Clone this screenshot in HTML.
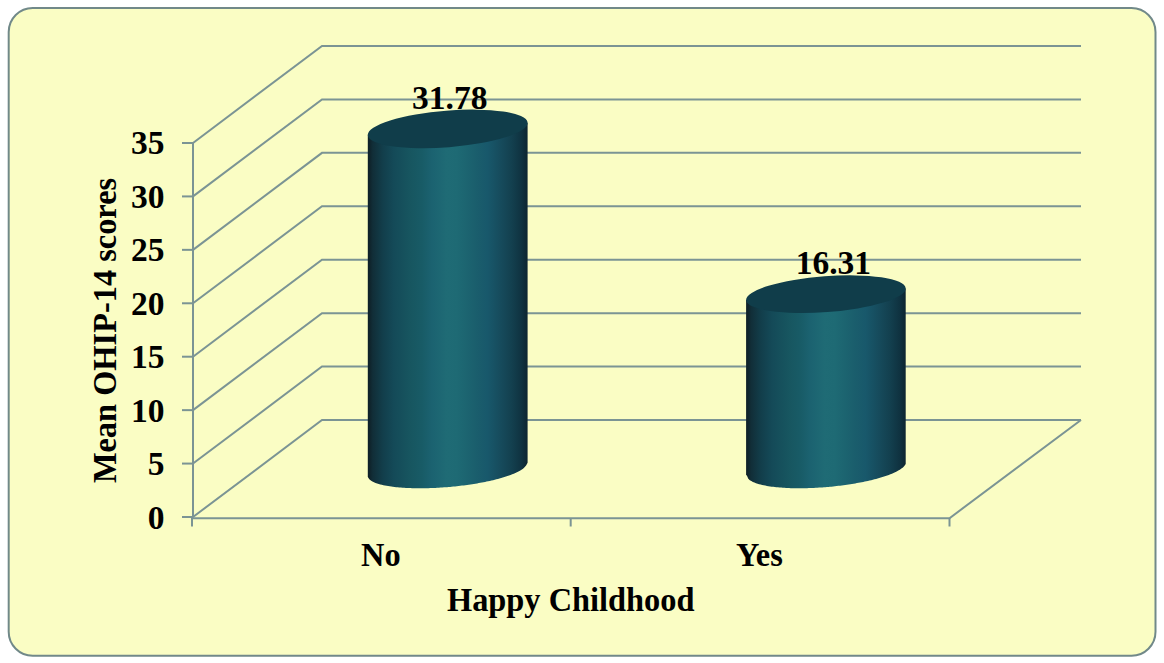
<!DOCTYPE html>
<html><head><meta charset="utf-8"><style>
html,body{margin:0;padding:0;background:#fff;width:1164px;height:663px;overflow:hidden}
svg{display:block}
text{font-family:"Liberation Serif","Times New Roman",serif;font-weight:bold;fill:#000;font-size:32.4px}
text.n{font-size:33.5px}
</style></head><body>
<svg width="1164" height="663" viewBox="0 0 1164 663">
<defs><linearGradient id="g" x1="0" x2="1" y1="0" y2="0">
<stop offset="0.0000" stop-color="#0e1f26"/>
<stop offset="0.0125" stop-color="#0f242c"/>
<stop offset="0.0312" stop-color="#112e38"/>
<stop offset="0.0938" stop-color="#123e4b"/>
<stop offset="0.1625" stop-color="#144a58"/>
<stop offset="0.2687" stop-color="#175660"/>
<stop offset="0.3375" stop-color="#185b66"/>
<stop offset="0.4000" stop-color="#1b6270"/>
<stop offset="0.4938" stop-color="#1f6b75"/>
<stop offset="0.5563" stop-color="#1e6a74"/>
<stop offset="0.6188" stop-color="#1c6470"/>
<stop offset="0.6875" stop-color="#1a5d6c"/>
<stop offset="0.7500" stop-color="#18586b"/>
<stop offset="0.8375" stop-color="#164a5b"/>
<stop offset="0.9000" stop-color="#13404f"/>
<stop offset="0.9625" stop-color="#0f3240"/>
<stop offset="1.0000" stop-color="#0d2530"/>
</linearGradient></defs>
<rect x="8.7" y="8" width="1146.8" height="647.8" rx="24" ry="24" fill="#fafdc4" stroke="#718989" stroke-width="2"/>
<g fill="none" stroke="#7b9494" stroke-width="2">
<path d="M193,517.00 L322,420.00 L1081,420.00"/>
<path d="M182,517.00 H193"/>
<path d="M193,463.57 L322,366.57 L1081,366.57"/>
<path d="M182,463.57 H193"/>
<path d="M193,410.14 L322,313.14 L1081,313.14"/>
<path d="M182,410.14 H193"/>
<path d="M193,356.71 L322,259.71 L1081,259.71"/>
<path d="M182,356.71 H193"/>
<path d="M193,303.28 L322,206.28 L1081,206.28"/>
<path d="M182,303.28 H193"/>
<path d="M193,249.85 L322,152.85 L1081,152.85"/>
<path d="M182,249.85 H193"/>
<path d="M193,196.42 L322,99.42 L1081,99.42"/>
<path d="M182,196.42 H193"/>
<path d="M193,142.99 L322,45.99 L1081,45.99"/>
<path d="M182,142.99 H193"/>
<path d="M193,141.99 V517.50"/>
<path d="M193,518.2 H949.5 L1081,420"/>
<path d="M192,518 V526.5"/>
<path d="M570.7,518 V526.5"/>
<path d="M949.5,518 V526.5"/>
</g>
<path d="M367.80,134.87 L367.80,477.02 L367.80,477.02 L369.32,479.34 L370.85,480.57 L372.41,481.50 L373.97,482.26 L375.52,482.90 L377.12,483.47 L378.72,483.97 L380.29,484.41 L381.82,484.80 L383.43,485.17 L384.96,485.49 L386.55,485.79 L388.20,486.07 L389.74,486.32 L391.32,486.55 L392.94,486.76 L394.61,486.97 L396.13,487.13 L397.68,487.29 L399.27,487.43 L400.88,487.57 L402.52,487.69 L404.19,487.80 L405.89,487.90 L407.40,487.98 L408.92,488.04 L410.47,488.10 L412.03,488.15 L413.61,488.19 L415.21,488.22 L416.82,488.25 L418.45,488.26 L420.09,488.26 L421.74,488.26 L423.41,488.24 L425.08,488.22 L426.77,488.19 L428.47,488.15 L430.18,488.09 L431.89,488.03 L433.62,487.96 L435.35,487.89 L437.08,487.80 L438.82,487.70 L440.57,487.60 L442.31,487.48 L444.06,487.36 L445.56,487.25 L447.07,487.13 L448.57,487.01 L450.07,486.88 L451.57,486.74 L453.32,486.57 L455.07,486.39 L456.81,486.21 L458.55,486.02 L460.28,485.81 L462.00,485.61 L463.72,485.39 L465.43,485.16 L467.13,484.93 L468.83,484.69 L470.51,484.45 L472.18,484.19 L473.84,483.93 L475.48,483.66 L477.12,483.38 L478.73,483.10 L480.34,482.81 L481.92,482.52 L483.49,482.21 L485.05,481.91 L486.58,481.59 L488.10,481.27 L489.80,480.90 L491.48,480.52 L493.14,480.13 L494.76,479.73 L496.35,479.33 L497.92,478.93 L499.45,478.51 L501.13,478.04 L502.77,477.56 L504.37,477.07 L505.92,476.58 L507.42,476.08 L509.03,475.52 L510.58,474.96 L512.22,474.33 L513.78,473.70 L515.39,473.00 L516.90,472.29 L518.43,471.53 L519.94,470.70 L521.49,469.74 L523.02,468.67 L524.55,467.36 L526.09,465.54 L527.60,462.79 L527.60,122.93 Z" fill="url(#g)"/>
<ellipse cx="447.70" cy="128.90" rx="80.14" ry="18.30" transform="rotate(-4.510 447.70 128.90)" fill="#103d4a"/>
<path d="M746.10,299.90 L746.10,475.30 L746.76,475.30 L748.29,478.80 L749.82,480.14 L751.35,481.12 L752.88,481.91 L754.40,482.57 L755.97,483.17 L757.55,483.70 L759.11,484.16 L760.62,484.57 L762.21,484.95 L763.73,485.29 L765.30,485.61 L766.94,485.91 L768.46,486.17 L770.03,486.41 L771.64,486.64 L773.30,486.85 L774.81,487.03 L776.35,487.20 L777.93,487.35 L779.53,487.49 L781.17,487.62 L782.83,487.74 L784.52,487.85 L786.02,487.93 L787.54,488.01 L789.08,488.07 L790.64,488.13 L792.21,488.17 L793.80,488.21 L795.41,488.24 L797.03,488.26 L798.67,488.26 L800.32,488.26 L801.98,488.25 L803.66,488.23 L805.34,488.20 L807.04,488.16 L808.74,488.11 L810.46,488.05 L812.18,487.99 L813.91,487.91 L815.64,487.82 L817.38,487.73 L819.13,487.62 L820.87,487.51 L822.37,487.40 L823.88,487.29 L825.38,487.17 L826.88,487.05 L828.38,486.92 L829.89,486.78 L831.39,486.63 L833.14,486.46 L834.88,486.27 L836.62,486.08 L838.36,485.87 L840.09,485.66 L841.82,485.44 L843.53,485.22 L845.24,484.98 L846.94,484.74 L848.63,484.49 L850.31,484.23 L851.98,483.96 L853.63,483.69 L855.28,483.41 L856.90,483.12 L858.52,482.82 L860.12,482.52 L861.70,482.21 L863.26,481.90 L864.81,481.58 L866.34,481.25 L867.85,480.91 L869.55,480.52 L871.22,480.13 L872.87,479.72 L874.48,479.31 L876.07,478.90 L877.62,478.47 L879.14,478.04 L880.82,477.55 L882.44,477.05 L884.03,476.55 L885.57,476.03 L887.22,475.46 L888.81,474.88 L890.35,474.29 L891.96,473.63 L893.49,472.97 L895.08,472.25 L896.68,471.46 L898.28,470.60 L899.83,469.67 L901.40,468.62 L902.97,467.39 L904.51,465.85 L905.70,464.07 L905.70,288.50 Z" fill="url(#g)"/>
<ellipse cx="825.90" cy="294.20" rx="80.01" ry="17.90" transform="rotate(-4.300 825.90 294.20)" fill="#103d4a"/>
<text class="n" transform="translate(449.8,108.6)" text-anchor="middle">31.78</text>
<text class="n" transform="translate(833.4,274.3)" text-anchor="middle">16.31</text>
<text class="n" transform="translate(164.5,528.50)" text-anchor="end">0</text>
<text class="n" transform="translate(164.5,475.07)" text-anchor="end">5</text>
<text class="n" transform="translate(164.5,421.64)" text-anchor="end">10</text>
<text class="n" transform="translate(164.5,368.21)" text-anchor="end">15</text>
<text class="n" transform="translate(164.5,314.78)" text-anchor="end">20</text>
<text class="n" transform="translate(164.5,261.35)" text-anchor="end">25</text>
<text class="n" transform="translate(164.5,207.92)" text-anchor="end">30</text>
<text class="n" transform="translate(164.5,154.49)" text-anchor="end">35</text>
<text transform="translate(380.9,565.7) scale(1,1.06)" text-anchor="middle">No</text>
<text transform="translate(759.4,565.8) scale(1,1.06)" text-anchor="middle">Yes</text>
<text transform="translate(570.7,611.3) scale(1,1.06)" text-anchor="middle">Happy Childhood</text>
<text transform="translate(116,330.5) rotate(-90) scale(1,1.05)" text-anchor="middle">Mean OHIP-14 scores</text>
</svg>
</body></html>
